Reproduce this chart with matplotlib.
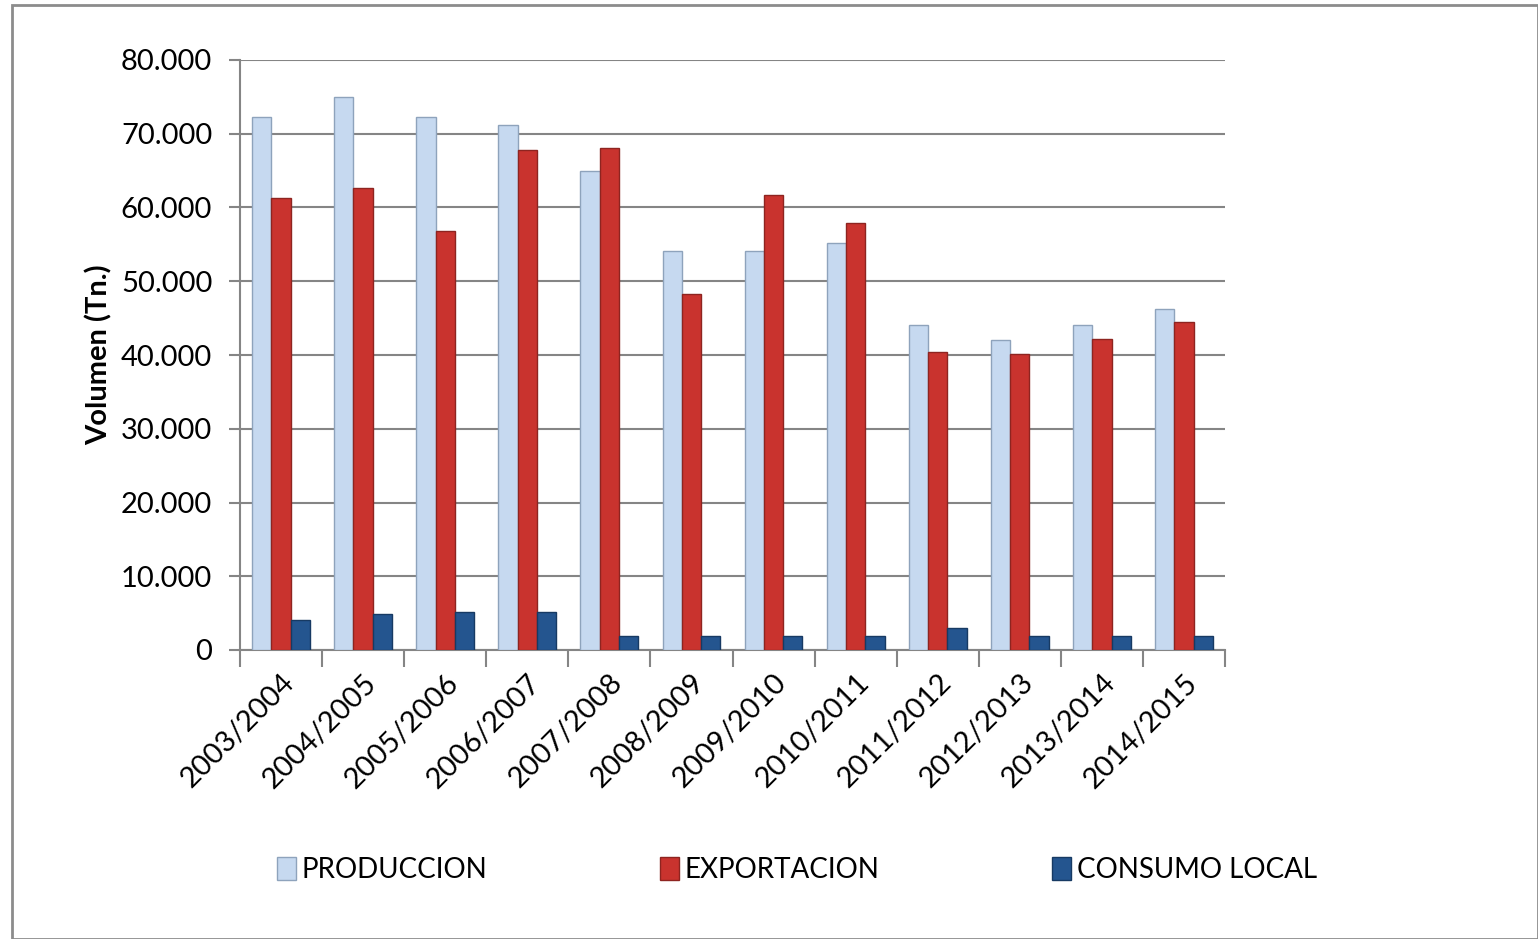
import numpy as np
import matplotlib
matplotlib.use('Agg')
import matplotlib.pyplot as plt
from matplotlib.patches import Rectangle
from matplotlib.ticker import FuncFormatter

campanas = ['2003/2004', '2004/2005', '2005/2006', '2006/2007', '2007/2008', '2008/2009',
            '2009/2010', '2010/2011', '2011/2012', '2012/2013', '2013/2014', '2014/2015']
produccion = [72300, 75000, 72300, 71200, 65000, 54100, 54100, 55200, 44100, 42000, 44100, 46200]
exportacion = [61300, 62700, 56800, 67800, 68100, 48300, 61700, 57900, 40400, 40100, 42200, 44500]
consumo = [4100, 4900, 5200, 5200, 1900, 1900, 1900, 1900, 3000, 1900, 1900, 1900]

plt.rcParams['font.family'] = ['Lato', 'DejaVu Sans']

fig = plt.figure(figsize=(15.38, 9.39), dpi=100)
ax = fig.add_axes([240/1538, 1-650/939, 985/1538, 590/939])

x = np.arange(len(campanas))
w = 0.235
ax.bar(x - w, produccion, w, color='#C6D9F0', edgecolor='#8EA3BC', linewidth=1, zorder=3, label='PRODUCCION')
ax.bar(x, exportacion, w, color='#C9332E', edgecolor='#8E2420', linewidth=1, zorder=3, label='EXPORTACION')
ax.bar(x + w, consumo, w, color='#24558F', edgecolor='#173A63', linewidth=1, zorder=3, label='CONSUMO LOCAL')

ax.set_xlim(-0.5, len(campanas) - 0.5)
ax.set_ylim(0, 80000)
ax.set_yticks(np.arange(0, 80001, 10000))
ax.yaxis.set_major_formatter(FuncFormatter(lambda v, p: '0' if v == 0 else f'{int(v):,}'.replace(',', '.')))
ax.grid(axis='y', color='#858585', linewidth=1.5, zorder=0)

ax.set_xticks(x)
ax.set_xticklabels(campanas, rotation=45, ha='right', rotation_mode='anchor', fontsize=21)
ax.set_xticks(np.arange(-0.5, len(campanas)), minor=True)
ax.tick_params(axis='x', which='major', length=0, pad=14)
ax.tick_params(axis='x', which='minor', length=12, width=1.5, color='#858585')
ax.tick_params(axis='y', length=8, width=1.5, color='#858585', labelsize=21, pad=12)

for s in ['top', 'right']:
    ax.spines[s].set_visible(False)
for s in ['left', 'bottom']:
    ax.spines[s].set_color('#858585')
    ax.spines[s].set_linewidth(1.5)

ax.set_ylabel('Volumen (Tn.)', fontsize=21, fontweight='bold', labelpad=6)

fig.legend(loc='center', bbox_to_anchor=(0.518, 1-870/939), ncol=3, frameon=False,
           fontsize=20, handlelength=0.7, handleheight=0.9, handletextpad=0.2, columnspacing=6.2)

fig.patches.append(Rectangle((12/1538, 0.0), 1 - 12/1538, 1 - 5/939, transform=fig.transFigure,
                             fill=False, edgecolor='#8C8C8C', linewidth=2))

fig.savefig('out.png', dpi=100)
